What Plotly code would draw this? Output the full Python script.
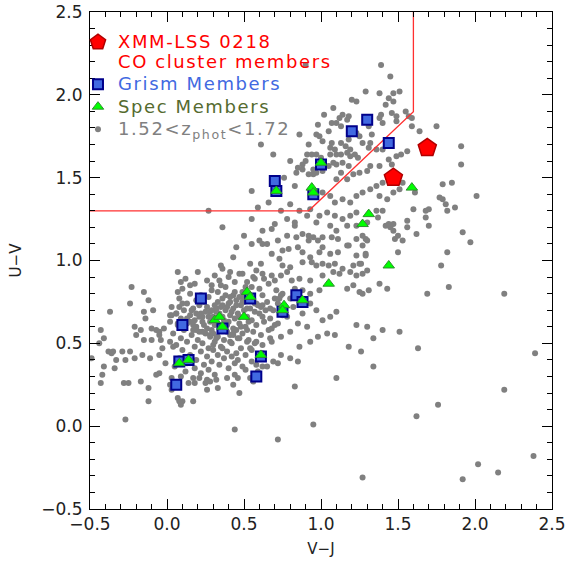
import plotly.graph_objects as go

# ---------------- data ----------------
# XMM-LSS 0218 CO cluster members
co_vj = [1.69, 1.47]
co_uv = [1.68, 1.50]

# Grism members
grism_vj = [1.30, 1.20, 1.44, 1.00, 0.70, 0.71, 0.95, 0.22, 0.54, 0.10, 0.36, 0.84, 0.88, 0.75,
            0.08, 0.14, 0.61, 0.58, 0.06]
grism_uv = [1.85, 1.78, 1.71, 1.58, 1.48, 1.42, 1.40, 0.77, 0.77, 0.61, 0.59, 0.79, 0.75, 0.69,
            0.39, 0.40, 0.42, 0.30, 0.25]

# Spectroscopic members
spec_vj = [1.00, 0.71, 0.94, 0.95, 0.52, 0.54, 0.31, 0.34, 0.36, 0.50, 0.88, 0.76, 0.75, 0.08,
           0.14, 0.61, 1.05, 1.59, 1.31, 1.27, 1.44]
spec_uv = [1.59, 1.42, 1.44, 1.41, 0.81, 0.78, 0.64, 0.66, 0.60, 0.66, 0.76, 0.73, 0.70, 0.38,
           0.40, 0.43, 0.86, 1.44, 1.28, 1.22, 0.97]

# UVJ quiescent selection boundary
box_vj = [-0.5, 0.92, 1.6, 1.6]
box_uv = [1.3, 1.3, 1.898, 2.5]

# axis tick labels
tick_vals = [-0.5, 0.0, 0.5, 1.0, 1.5, 2.0, 2.5]
tick_text = ["−0.5", "0.0", "0.5", "1.0", "1.5", "2.0", "2.5"]

# photometric-redshift sample (1.52 < z_phot < 1.72), grouped by region
phot_left = [(-0.23, 0.84), (-0.15, 0.81), (-0.24, 0.74), (-0.12, 0.76), (-0.37, 0.69), (-0.43, 0.58),
             (-0.41, 0.53), (-0.44, 0.50), (-0.38, 0.45), (-0.35, 0.45), (-0.29, 0.45), (-0.24, 0.45),
             (-0.21, 0.60), (-0.17, 0.58), (-0.20, 0.55), (-0.15, 0.52), (-0.10, 0.52), (-0.10, 0.59),
             (-0.14, 0.65), (-0.15, 0.69), (-0.09, 0.70), (-0.11, 0.41), (-0.16, 0.43), (-0.21, 0.41),
             (-0.27, 0.40), (-0.33, 0.40), (-0.36, 0.44), (-0.34, 0.35), (-0.41, 0.36), (-0.42, 0.31),
             (-0.43, 0.26), (-0.28, 0.26), (-0.25, 0.26), (-0.17, 0.27), (-0.12, 0.23), (-0.12, 0.15),
             (-0.27, 0.04), (-0.49, 0.41), (-0.07, 0.58), (-0.05, 0.57), (-0.02, 0.59), (-0.05, 0.55),
             (-0.04, 0.52), (-0.03, 0.47), (-0.05, 0.43), (-0.07, 0.31), (-0.05, 0.32), (-0.01, 0.38)]

phot_low = [(0.02, 0.25), (0.03, 0.22), (0.07, 0.17), (0.08, 0.15), (0.10, 0.15), (0.09, 0.13),
            (0.14, 0.26), (0.18, 0.26), (0.17, 0.15), (0.25, 0.26), (0.28, 0.27), (0.26, 0.22),
            (0.33, 0.23), (0.43, 0.25), (0.47, 0.20), (0.44, -0.02), (0.56, 0.27), (0.72, -0.08),
            (0.83, 0.24), (0.95, 0.01), (1.27, -0.31), (0.02, 0.51), (0.04, 0.48), (0.03, 0.29),
            (0.21, 0.29), (0.32, 0.28), (0.39, 0.29), (0.46, 0.29), (0.51, 0.34), (0.54, 0.29),
            (0.58, 0.37), (0.62, 0.36), (0.65, 0.36), (0.69, 0.39), (0.72, 0.38), (0.74, 0.43),
            (0.80, 0.41), (0.85, 0.39), (0.86, 0.48), (0.93, 0.51), (0.98, 0.54), (1.04, 0.56),
            (1.09, 0.55), (0.80, 0.57), (0.74, 0.54), (0.72, 0.62), (0.68, 0.59), (0.67, 0.53),
            (0.62, 0.49), (0.58, 0.51), (0.54, 0.47), (0.52, 0.51), (0.47, 0.53), (0.43, 0.55),
            (0.41, 0.51), (0.36, 0.47), (0.32, 0.53), (0.30, 0.49), (0.28, 0.55), (0.23, 0.57),
            (0.19, 0.58), (0.17, 0.61), (0.15, 0.63), (0.13, 0.65), (0.19, 0.68), (0.23, 0.66),
            (0.28, 0.69), (0.32, 0.71), (0.36, 0.73), (0.41, 0.75), (0.43, 0.79), (0.47, 0.78),
            (0.49, 0.75), (0.52, 0.71), (0.58, 0.74), (0.62, 0.73), (0.67, 0.71), (0.70, 0.77),
            (0.74, 0.79), (0.80, 0.77), (0.83, 0.83), (0.88, 0.82), (0.93, 0.80), (0.99, 0.82),
            (1.01, 0.64), (1.06, 0.66), (1.10, 0.69), (1.18, 0.48), (1.23, 0.61), (1.30, 0.60),
            (1.10, 0.29), (1.17, 0.83), (1.21, 0.85), (1.25, 0.81), (1.31, 0.82), (0.78, 0.66),
            (0.82, 0.72), (0.88, 0.68), (0.93, 0.74), (0.97, 0.70), (0.85, 0.62), (0.91, 0.60),
            (0.76, 0.72), (0.73, 0.77)]

phot_core = [(0.20, 0.93), (0.31, 0.91), (0.47, 0.92), (0.58, 0.94), (0.12, 0.89), (0.26, 0.88),
             (0.40, 0.90), (0.52, 0.87), (0.63, 0.89), (0.18, 0.86), (0.35, 0.85), (0.44, 0.87),
             (0.55, 0.84), (0.66, 0.86), (0.10, 0.83), (0.29, 0.82), (0.38, 0.84), (0.49, 0.81),
             (0.60, 0.83), (0.71, 0.82), (0.15, 0.80), (0.22, 0.79), (0.33, 0.81), (0.41, 0.78),
             (0.53, 0.80), (0.62, 0.79), (0.75, 0.80), (0.08, 0.77), (0.19, 0.76), (0.27, 0.78),
             (0.36, 0.77), (0.45, 0.76), (0.56, 0.77), (0.65, 0.75), (0.13, 0.74), (0.24, 0.75),
             (0.31, 0.73), (0.40, 0.74), (0.50, 0.75), (0.59, 0.73), (0.72, 0.74), (0.03, 0.72),
             (0.17, 0.71), (0.21, 0.73), (0.29, 0.70), (0.35, 0.72), (0.43, 0.71), (0.48, 0.73),
             (0.54, 0.71), (0.61, 0.72), (0.69, 0.70), (0.11, 0.70), (0.25, 0.69), (0.38, 0.70),
             (0.46, 0.68), (0.57, 0.69), (0.64, 0.70), (0.06, 0.68), (0.15, 0.67), (0.22, 0.68),
             (0.30, 0.66), (0.34, 0.68), (0.41, 0.67), (0.52, 0.66), (0.60, 0.68), (0.75, 0.67),
             (0.09, 0.65), (0.18, 0.64), (0.27, 0.66), (0.37, 0.64), (0.44, 0.65), (0.55, 0.64),
             (0.67, 0.65), (0.02, 0.63), (0.13, 0.62), (0.23, 0.63), (0.31, 0.61), (0.40, 0.63),
             (0.47, 0.62), (0.58, 0.61), (0.63, 0.63), (0.07, 0.61), (0.19, 0.60), (0.26, 0.59),
             (0.35, 0.60), (0.43, 0.59), (0.51, 0.60), (0.70, 0.61), (0.11, 0.58), (0.21, 0.57),
             (0.29, 0.58), (0.39, 0.57), (0.45, 0.58), (0.56, 0.57), (0.66, 0.58), (0.04, 0.56),
             (0.16, 0.55), (0.25, 0.56), (0.33, 0.54), (0.41, 0.55), (0.49, 0.56), (0.61, 0.55),
             (0.09, 0.53), (0.20, 0.52), (0.28, 0.54), (0.37, 0.52), (0.46, 0.53), (0.53, 0.52),
             (0.13, 0.51), (0.23, 0.50), (0.31, 0.51), (0.42, 0.50), (0.57, 0.50), (0.68, 0.51),
             (0.06, 0.49), (0.18, 0.48), (0.27, 0.47), (0.35, 0.48), (0.48, 0.47), (0.10, 0.46),
             (0.22, 0.45), (0.30, 0.46), (0.39, 0.45), (0.45, 0.44), (0.55, 0.46), (0.15, 0.43),
             (0.26, 0.42), (0.33, 0.43), (0.42, 0.42), (0.51, 0.43), (0.62, 0.44), (0.08, 0.41),
             (0.19, 0.40), (0.29, 0.39), (0.37, 0.41), (0.46, 0.40), (0.13, 0.38), (0.24, 0.37),
             (0.34, 0.37), (0.44, 0.38), (0.55, 0.39), (0.05, 0.36), (0.18, 0.35), (0.27, 0.34),
             (0.40, 0.35), (0.49, 0.36), (0.12, 0.33), (0.22, 0.32), (0.31, 0.31), (0.59, 0.33),
             (0.09, 0.30), (0.17, 0.29), (0.26, 0.28), (0.44, 0.31), (0.28, 0.63), (0.32, 0.69),
             (0.36, 0.66), (0.39, 0.61), (0.42, 0.69), (0.47, 0.66), (0.50, 0.70), (0.53, 0.63),
             (0.33, 0.75), (0.38, 0.79), (0.44, 0.81), (0.49, 0.78), (0.26, 0.72), (0.21, 0.66),
             (0.16, 0.70), (0.30, 0.56), (0.36, 0.58), (0.43, 0.56), (0.48, 0.60), (0.52, 0.58),
             (0.24, 0.61), (0.17, 0.58), (0.39, 0.72), (0.45, 0.73), (0.57, 0.74), (0.62, 0.66),
             (0.34, 0.88), (0.29, 0.85), (0.51, 0.84), (0.57, 0.89), (0.02, 0.67), (0.03, 0.67),
             (0.06, 0.68), (0.07, 0.62), (0.08, 0.72), (0.10, 0.74), (0.15, 0.85), (0.09, 0.87),
             (0.07, 0.93), (0.07, 0.81)]

phot_mid = [(0.55, 1.10), (0.62, 1.10), (0.65, 1.10), (0.68, 1.04), (0.75, 1.06), (0.79, 1.07),
            (0.84, 1.14), (0.92, 1.15), (0.92, 1.12), (0.98, 1.12), (1.01, 1.14), (1.07, 1.14),
            (1.11, 1.13), (1.17, 1.09), (1.23, 1.13), (1.30, 1.12), (0.85, 1.08), (0.88, 1.05),
            (0.93, 1.02), (0.99, 1.05), (1.01, 1.08), (1.06, 1.04), (1.11, 1.05), (1.18, 1.09),
            (1.23, 1.03), (1.29, 1.04), (0.43, 1.02), (0.54, 0.98), (0.61, 0.98), (0.73, 1.01),
            (0.75, 0.97), (0.80, 0.96), (0.88, 0.99), (0.94, 0.99), (0.97, 0.97), (1.01, 0.98),
            (1.05, 0.97), (1.09, 0.98), (1.14, 0.95), (1.21, 0.97), (1.25, 0.98), (1.30, 0.94),
            (0.35, 0.97), (0.36, 0.95), (0.41, 0.93), (0.49, 0.92), (0.56, 0.90), (0.62, 0.92),
            (0.68, 0.91), (0.70, 0.88), (0.74, 0.91), (0.78, 0.93), (0.81, 0.88), (0.86, 0.89),
            (0.93, 0.88), (1.01, 0.91), (1.08, 0.93), (1.12, 0.92), (1.19, 0.93), (1.23, 0.91),
            (0.55, 1.25), (0.62, 1.18), (0.70, 1.22), (0.74, 1.30), (0.66, 1.35), (0.80, 1.34),
            (0.86, 1.30), (0.78, 1.15), (0.88, 1.16), (0.95, 1.14), (0.60, 1.12), (0.50, 1.15),
            (0.45, 1.08), (0.72, 1.12), (0.27, 1.30), (0.36, 1.20), (0.68, 1.19), (0.78, 1.25),
            (0.83, 1.23), (0.83, 1.21), (0.59, 1.32), (0.55, 1.42), (1.01, 1.41), (1.06, 1.39),
            (1.09, 1.35), (1.14, 1.37), (1.19, 1.35), (1.23, 1.39), (1.27, 1.41), (1.32, 1.43),
            (1.36, 1.45), (1.40, 1.47), (1.45, 1.49), (1.50, 1.51), (1.38, 1.39), (1.43, 1.37),
            (1.47, 1.41), (1.51, 1.43), (1.53, 1.47), (1.23, 1.29), (1.19, 1.27), (1.14, 1.25),
            (1.09, 1.27), (1.04, 1.29), (0.99, 1.27), (0.93, 1.31), (0.91, 1.27), (0.97, 1.23),
            (1.06, 1.21), (1.10, 1.18), (1.17, 1.21), (1.23, 1.21), (1.30, 1.23)]

phot_red = [(1.29, 2.02), (1.20, 1.97), (1.23, 1.96), (1.08, 1.92), (1.14, 1.88), (1.18, 1.87),
            (1.12, 1.86), (1.17, 1.85), (1.10, 1.83), (1.07, 1.83), (1.13, 1.81), (1.31, 1.81),
            (1.33, 1.76), (1.38, 1.86), (1.40, 1.83), (1.49, 1.84), (1.57, 1.87), (1.59, 1.81),
            (1.61, 1.41), (0.61, 1.70), (0.69, 1.64), (0.97, 1.76), (0.99, 1.75), (1.01, 1.72),
            (1.07, 1.71), (1.06, 1.68), (1.09, 1.67), (1.06, 1.64), (1.10, 1.64), (1.13, 1.64),
            (1.17, 1.65), (1.19, 1.63), (1.22, 1.64), (1.24, 1.62), (1.13, 1.71), (1.16, 1.69),
            (1.18, 1.73), (1.19, 1.67), (0.91, 1.64), (0.94, 1.64), (0.97, 1.64), (0.90, 1.60),
            (0.85, 1.56), (0.88, 1.55), (0.84, 1.53), (0.92, 1.52), (0.95, 1.52), (0.97, 1.53),
            (1.01, 1.54), (1.05, 1.57), (1.08, 1.59), (1.10, 1.58), (1.14, 1.59), (1.18, 1.57),
            (1.13, 1.53), (1.10, 1.49), (1.17, 1.49), (1.21, 1.52), (1.25, 1.53), (1.30, 1.54),
            (1.32, 1.57), (1.38, 1.57), (1.44, 1.61), (1.46, 1.58), (1.49, 1.63), (1.52, 1.64),
            (1.56, 1.66), (1.40, 1.67), (1.36, 1.67), (1.31, 1.68), (1.27, 1.71), (1.25, 1.75),
            (1.23, 1.77), (1.32, 1.71), (0.80, 1.60), (0.76, 1.50), (0.83, 1.45), (0.88, 1.58),
            (0.92, 1.70), (0.86, 1.76), (0.98, 1.82), (1.02, 1.88), (1.05, 1.78), (0.95, 1.55),
            (1.00, 1.62), (1.39, 2.18), (1.45, 2.11), (1.38, 2.01), (1.42, 1.94), (1.44, 1.98),
            (1.47, 2.01), (1.51, 2.02), (1.47, 1.96), (1.39, 1.88), (1.46, 1.89), (1.49, 1.87),
            (1.55, 1.90), (1.59, 1.86), (0.90, 2.18)]

phot_right = [(2.19, 0.80), (2.39, 0.44), (2.19, 0.22), (1.76, 0.13), (1.62, 0.06), (2.38, -0.18),
              (2.02, -0.23), (2.15, -0.28), (1.92, -0.32), (1.63, 0.47), (1.51, 0.57), (1.40, 0.58),
              (1.34, 0.53), (1.34, 0.36), (1.26, 0.45), (1.83, 0.84), (1.78, 0.97), (1.69, 0.80),
              (1.43, 0.83), (1.38, 0.86), (1.27, 0.80), (1.50, 1.05), (1.29, 1.03), (1.26, 0.98),
              (1.27, 0.92), (1.27, 1.09), (1.27, 1.15), (1.29, 1.13), (1.48, 1.13), (1.53, 1.12),
              (1.50, 1.15), (1.62, 1.16), (1.70, 1.21), (1.56, 1.20), (1.56, 1.24), (1.42, 1.21),
              (1.44, 1.22), (1.47, 1.22), (1.45, 1.20), (1.47, 1.18), (1.68, 1.26), (1.68, 1.30),
              (1.70, 1.31), (1.60, 1.31), (1.82, 1.30), (1.81, 1.34), (1.40, 1.30), (1.36, 1.30),
              (1.37, 1.26), (1.64, 1.78), (1.75, 1.81), (1.91, 1.69), (1.91, 1.58), (2.01, 1.39),
              (1.85, 1.47), (1.79, 1.46), (1.77, 1.38), (1.79, 1.37), (1.97, 1.11), (1.92, 1.17),
              (1.87, 1.32), (1.82, 1.05)]

groups = [phot_left, phot_low, phot_core, phot_mid, phot_red, phot_right]
phot_vj = [p[0] for g in groups for p in g]
phot_uv = [p[1] for g in groups for p in g]

FONT = "DejaVu Sans"
TXT = "font-size:18px;letter-spacing:1.6px"

fig = go.Figure()

fig.add_trace(go.Scatter(
    x=phot_vj, y=phot_uv, mode="markers",
    marker=dict(symbol="circle", size=6, color="#808080", line=dict(width=0)),
    name=f'<span style="color:#808080;{TXT}">1.52&lt;z<sub>phot</sub>&lt;1.72</span>',
    legendrank=4))

fig.add_trace(go.Scatter(
    x=box_vj, y=box_uv, mode="lines",
    line=dict(color="#ff3030", width=1.3), showlegend=False))

fig.add_trace(go.Scatter(
    x=grism_vj, y=grism_uv, mode="markers",
    marker=dict(symbol="square", size=10, color="#4169e1",
                line=dict(color="#00008b", width=2)),
    name=f'<span style="color:#4169e1;{TXT}">Grism Members</span>',
    legendrank=2))

fig.add_trace(go.Scatter(
    x=spec_vj, y=spec_uv, mode="markers",
    marker=dict(symbol="triangle-up", size=10, color="#00ff00",
                line=dict(color="#2f8f2f", width=1)),
    name=f'<span style="color:#556b2f;{TXT}">Spec Members</span>',
    legendrank=3))

fig.add_trace(go.Scatter(
    x=co_vj, y=co_uv, mode="markers",
    marker=dict(symbol="pentagon", size=19, color="#ff0000",
                line=dict(color="#b00000", width=1.5)),
    name=(f'<span style="color:#ff0000;{TXT}">XMM-LSS 0218</span><br>'
          f'<span style="color:#ff0000;{TXT}">CO cluster members</span>'),
    legendrank=1))

axis_common = dict(
    range=[-0.5, 2.5], tickmode="array", tickvals=tick_vals, ticktext=tick_text,
    automargin=False,
    showgrid=False, zeroline=False,
    showline=True, linecolor="black", linewidth=1,
    mirror="ticks", ticks="inside", ticklen=10, tickwidth=1, tickcolor="black",
    minor=dict(dtick=0.1, tick0=-0.5, ticks="inside", ticklen=5, tickwidth=1, tickcolor="black"),
    tickfont=dict(family=FONT, size=17, color="#222222"),
    ticklabeloverflow="allow",
)

fig.update_layout(
    width=568, height=562,
    margin=dict(l=90, r=16, t=12, b=53, autoexpand=False),
    paper_bgcolor="white", plot_bgcolor="white",
    font=dict(family=FONT, color="black"),
    xaxis=dict(axis_common, title=dict(text="V−J", font=dict(family=FONT, size=15, color="#222222"),
                                       standoff=10)),
    yaxis=dict(axis_common, ticklabelstandoff=3,
               title=dict(text="U−V", font=dict(family=FONT, size=15, color="#222222"), standoff=16)),
    legend=dict(x=-0.026, y=0.972, xanchor="left", yanchor="top", valign="top",
                bgcolor="rgba(0,0,0,0)", borderwidth=0,
                font=dict(family=FONT, size=15),
                itemwidth=30, tracegroupgap=0),
)

fig.write_html("out.html", config={"displayModeBar": False},
               post_script="document.body.style.margin='0px';")
